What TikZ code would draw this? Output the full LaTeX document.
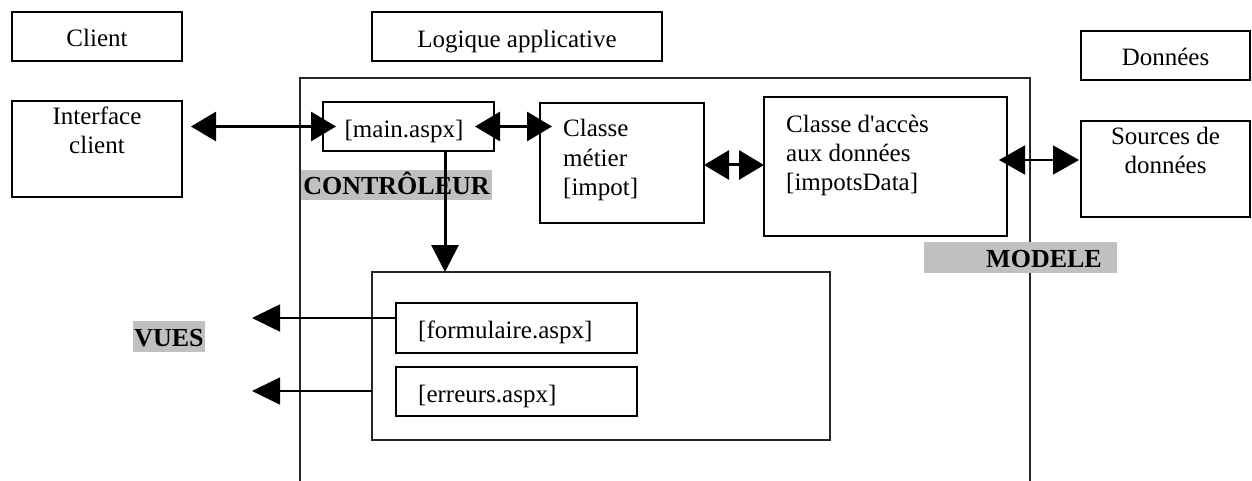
\documentclass[tikz,border=0pt]{standalone}
\usepackage{fontspec}
\setmainfont{Liberation Serif}
\newfontfamily\rawserif{Liberation Serif}
\usetikzlibrary{arrows.meta}
\definecolor{lblgray}{RGB}{192,192,192}
\begin{document}
\begin{tikzpicture}[x=1pt,y=-1pt,
  box/.style 2 args={draw, line width=2pt, inner sep=0pt, outer sep=0pt, minimum width=#1pt, minimum height=#2pt},
  frame/.style 2 args={draw=black!85, line width=1.6pt, inner sep=0pt, outer sep=0pt, minimum width=#1pt, minimum height=#2pt},
  graybg/.style 2 args={fill=lblgray, inner sep=0pt, outer sep=0pt, minimum width=#1pt, minimum height=#2pt},
  txt/.style={inner sep=0pt, font=\fontsize{25}{29}\selectfont},
  btxt/.style={inner sep=0pt, font=\fontsize{26}{30}\selectfont\bfseries},
  heavy/.style={line width=3pt, {Triangle[length=25pt,width=29pt]}-{Triangle[length=25pt,width=29pt]}},
  heavyone/.style={line width=3pt, -{Triangle[length=27pt,width=27pt]}},
  light/.style={line width=1.8pt, {Triangle[length=26pt,width=29pt]}-{Triangle[length=26pt,width=29pt]}},
  lightone/.style={line width=1.6pt, -{Triangle[length=28pt,width=27pt]}}
]
\useasboundingbox (0,0) rectangle (1252,481);

% outer frame (open at the bottom)
\coordinate (oBL) at (300,481);
\coordinate (oTL) at (300,78);
\coordinate (oTR) at (1030,78);
\coordinate (oBR) at (1030,481);
\draw[draw=black!85, line width=1.6pt] (oBL) -- (oTL) -- (oTR) -- (oBR);

% header boxes
\node[box={170}{49}] (client) at (97,36.5) {};
\node[txt, anchor=base] (clientT) at (97,47) {Client};
\node[box={290}{49}] (logique) at (517,36.5) {};
\node[txt, anchor=base] (logiqueT) at (517,48) {Logique applicative};
\node[box={169}{49}] (donnees) at (1165.5,55.5) {};
\node[txt, anchor=base] (donneesT) at (1165.5,66) {Données};

% main boxes
\node[box={170}{96}] (iface) at (97,149) {};
\node[txt, anchor=base] (ifaceA) at (97,125) {Interface};
\node[txt, anchor=base] (ifaceB) at (97,154) {client};

\node[box={171}{49}] (main) at (408.5,126.5) {};
\node[txt, anchor=base] (mainT) at (404,138) {[main.aspx]};

\node[box={164}{120}] (metier) at (622,163) {};
\node[txt, anchor=base west] (metierA) at (563,137) {Classe};
\node[txt, anchor=base west] (metierB) at (563,166.5) {métier};
\node[txt, anchor=base west] (metierC) at (563,196) {[impot]};

\node[box={243}{139}] (acces) at (885.5,166.5) {};
\node[txt, anchor=base west] (accesA) at (786,133) {Classe d{\rawserif '}accès};
\node[txt, anchor=base west] (accesB) at (786,162) {aux données};
\node[txt, anchor=base west] (accesC) at (786,191) {[impotsData]};

\node[box={169}{96}] (sources) at (1165.5,169) {};
\node[txt, anchor=base] (sourcesA) at (1165.5,145) {Sources de};
\node[txt, anchor=base] (sourcesB) at (1165.5,174) {données};

% labels
\node[graybg={191}{30}] (ctrlbg) at (396.5,185) {};
\node[btxt, anchor=base] (ctrl) at (396.5,195) {CONTRÔLEUR};
\node[graybg={193}{31}] (modelebg) at (1020.5,257.5) {};
\node[btxt, anchor=base east] (modele) at (1102,267) {MODELE};
\node[graybg={72}{31}] (vuesbg) at (169,336.5) {};
\node[btxt, anchor=base] (vues) at (169,346) {VUES};

% views
\node[frame={458}{168}] (views) at (601,356) {};
\node[box={241}{50}] (form) at (516.5,328) {};
\node[txt, anchor=base west] (formT) at (418,338.5) {[formulaire.aspx]};
\node[box={241}{49}] (err) at (516.5,391.5) {};
\node[txt, anchor=base west] (errT) at (418,402) {[erreurs.aspx]};

% connectors
\draw[heavy, shorten <=9pt, shorten >=-13pt] (iface.east |- main.west) -- (main.west);
\draw[heavy, shorten <=-19pt, shorten >=-12pt] (main.east) -- (metier.west |- main.east);
\draw[heavy] ([yshift=-2pt]metier.east) -- ([yshift=-2pt]metier.east -| acces.west);
\draw[light, shorten <=-8pt, shorten >=2pt] ([yshift=6.5pt]acces.east) -- ([yshift=6.5pt]acces.east -| sources.west);
\draw[heavyone] ([xshift=36.5pt]main.south) -- ([xshift=36.5pt]main.south |- views.north);

\coordinate (vtipA) at (252,318);
\coordinate (vtipB) at (252,391);
\draw[lightone] (form.west |- vtipA) -- (vtipA);
\draw[lightone] (views.west |- vtipB) -- (vtipB);
\end{tikzpicture}
\end{document}
